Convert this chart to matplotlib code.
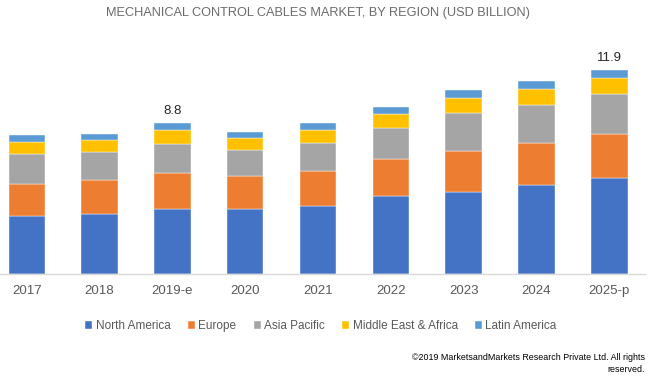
import numpy as np
import matplotlib
matplotlib.use("Agg")
import matplotlib.pyplot as plt

plt.rcParams['font.family'] = ['Liberation Sans', 'DejaVu Sans']

# Data (USD billion)
years = ['2017', '2018', '2019-e', '2020', '2021', '2022', '2023', '2024', '2025-p']
north_america = [3.35, 3.50, 3.78, 3.78, 3.95, 4.54, 4.79, 5.18, 5.59]
europe        = [1.89, 1.99, 2.09, 1.95, 2.03, 2.19, 2.37, 2.44, 2.58]
asia_pacific  = [1.76, 1.62, 1.73, 1.49, 1.66, 1.80, 2.24, 2.28, 2.34]
mea           = [0.72, 0.70, 0.80, 0.70, 0.76, 0.80, 0.88, 0.88, 0.92]
latin_america = [0.39, 0.39, 0.39, 0.37, 0.39, 0.41, 0.47, 0.47, 0.49]
labels = {2: '8.8', 8: '11.9'}

series = [
    ('North America', north_america, '#4472C4'),
    ('Europe', europe, '#ED7D31'),
    ('Asia Pacific', asia_pacific, '#A5A5A5'),
    ('Middle East & Africa', mea, '#FFC000'),
    ('Latin America', latin_america, '#5B9BD5'),
]

W, H = 650, 381
fig = plt.figure(figsize=(6.5, 3.81), dpi=100)
base_px = 273.5
top_px = 30
ax = fig.add_axes([0, (H - base_px) / H, 645 / W, (base_px - top_px) / H])

x = np.arange(len(years))
bottom = np.zeros(len(years))
for name, vals, col in series:
    ax.bar(x, vals, 0.5, bottom=bottom, color=col, label=name,
           edgecolor='white', linewidth=0.3)
    bottom += np.array(vals)

for i, txt in labels.items():
    ax.text(x[i], bottom[i] + 0.35, txt, ha='center', va='bottom',
            fontsize=9.5, color='#262626')

ax.set_xlim(-0.367, 8.49)
ax.set_ylim(0, (base_px - top_px) / 17.07)
ax.set_yticks([])
ax.set_xticks(x)
ax.set_xticklabels(years, fontsize=9.5, color='#595959')
ax.tick_params(axis='x', length=0, pad=8)
for s in ['top', 'right', 'left']:
    ax.spines[s].set_visible(False)
ax.spines['bottom'].set_color('#D9D9D9')
ax.spines['bottom'].set_linewidth(1)

fig.text(318 / W, 1 - 13 / H, 'MECHANICAL CONTROL CABLES MARKET, BY REGION (USD BILLION)',
         ha='center', va='center', fontsize=9.2, color='#6b6b6b')

handles, names = ax.get_legend_handles_labels()
fig.legend(handles, names, loc='center', bbox_to_anchor=(321 / W, 1 - 326 / H),
           ncol=5, frameon=False, fontsize=8.5, handlelength=0.6, handleheight=0.6,
           handletextpad=0.3, columnspacing=1.45, labelcolor='#595959')

fig.text(645 / W, 1 - 357 / H, '©2019 MarketsandMarkets Research Private Ltd. All rights',
         ha='right', va='center', fontsize=6.4, color='black')
fig.text(645 / W, 1 - 369 / H, 'reserved.',
         ha='right', va='center', fontsize=6.4, color='black')

fig.savefig('out.png', dpi=100)
